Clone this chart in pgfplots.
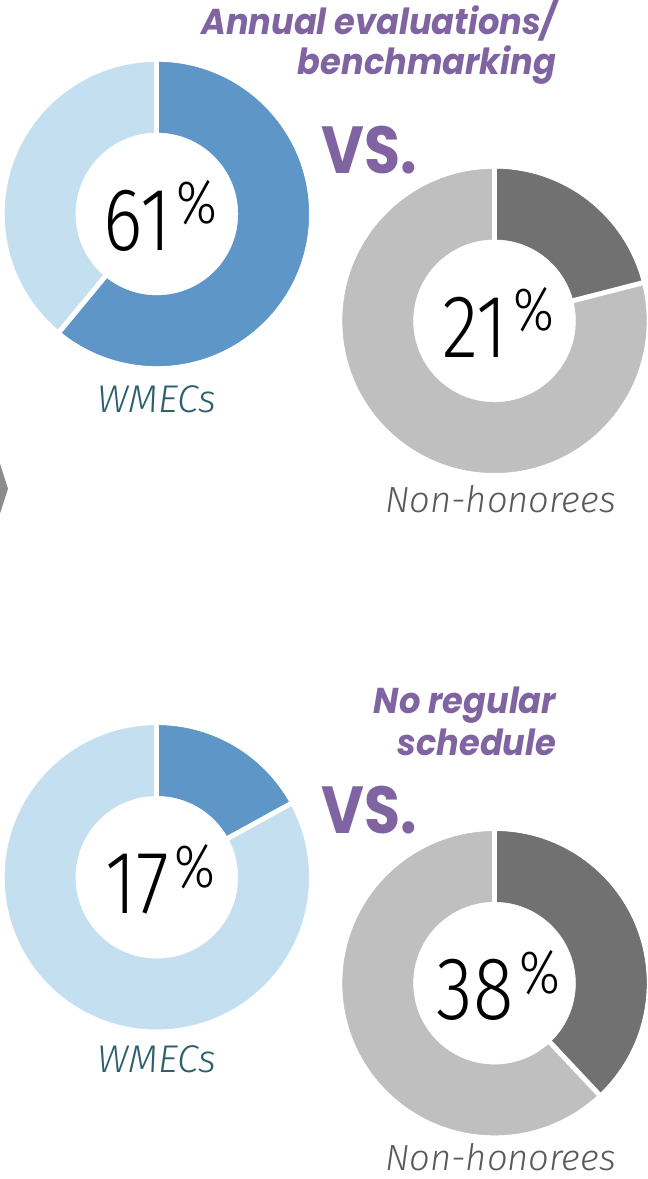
\documentclass[border=0pt]{standalone}
\usepackage{fontspec}
\usepackage{pgfplots}
\usepackage{pgfplotstable}
\pgfplotsset{compat=1.18}
\newfontfamily\titlefont{Poppins}
\newfontfamily\numfont{Fira Sans}[UprightFont={* Light}, ItalicFont={* Light Italic}]
\definecolor{bdark}{HTML}{5F96C8}
\definecolor{blight}{HTML}{C4DFF0}
\definecolor{gdark}{HTML}{717171}
\definecolor{glight}{HTML}{BFBFBF}
\definecolor{vspurple}{HTML}{8064A2}
\definecolor{wteal}{HTML}{2D5F6E}
\definecolor{ngray}{HTML}{595959}
\definecolor{arrowgray}{HTML}{8C8C8C}

% donut centres in pixel units, share of the dark segment, colour group
\pgfplotstableread{
cx  cy  pct dark
157 966 61  0
495 859 21  1
157 302 17  0
495 196 38  1
}\donuts

\begin{document}
\begin{tikzpicture}
\begin{axis}[x=0.75pt, y=0.75pt, xmin=0, xmax=647, ymin=0, ymax=1179,
  hide axis, clip=false]
\path (axis cs:0,0) rectangle (axis cs:647,1179);

\addplot[scatter, only marks, mark=text, text mark={},
  visualization depends on={\thisrow{pct}\as\pct},
  visualization depends on={\thisrow{dark}\as\grp},
  scatter/@pre marker code/.code={%
    \ifdim\grp pt>0.5pt \colorlet{segA}{gdark}\colorlet{segB}{glight}%
    \else \colorlet{segA}{bdark}\colorlet{segB}{blight}\fi
    \pgfmathtruncatemacro\pctint{round(\pct)}%
    \fill[segB] (0,0) circle[radius=114pt];
    \fill[segA] (0,0) -- (90:114pt) arc[start angle=90, end angle={90-3.6*\pct}, radius=114pt] -- cycle;
    \fill[white] (0,0) circle[radius=60.75pt];
    \draw[white, line width=3.75pt] (0,0) -- (90:117pt);
    \draw[white, line width=3.75pt] (0,0) -- ({90-3.6*\pct}:117pt);
    \node[anchor=base, inner sep=0pt, xscale=0.84, xshift=3.4pt, yshift=-27.4pt, text=black] at (0,0)
      {\numfont\fontsize{67}{67}\selectfont\pctint\hspace{5pt}\raisebox{20pt}{\fontsize{46}{46}\selectfont\%}};
  },
  scatter/@post marker code/.code={},
] table[x=cx, y=cy] {\donuts};

% titles
\tikzset{ttl/.style={anchor=base east, inner sep=0pt, text=vspurple, xscale=0.935,
  font=\titlefont\bfseries\itshape\fontsize{27}{27}\selectfont},
  vs/.style={anchor=base west, inner sep=0pt, text=vspurple, xscale=0.88,
  font=\titlefont\bfseries\fontsize{50}{50}\selectfont},
  lbl/.style={anchor=base, inner sep=0pt}}
\node[ttl] at (axis cs:557,1146) {Annual evaluations/};
\node[ttl] at (axis cs:557,1106) {benchmarking};
\node[ttl] at (axis cs:557,466) {No regular};
\node[ttl] at (axis cs:557,424) {schedule};
\node[vs] at (axis cs:322,1007) {VS.};
\node[vs] at (axis cs:322,346) {VS.};

% group labels
\node[lbl, text=wteal, font=\numfont\itshape\fontsize{29}{29}\selectfont] at (axis cs:157,767) {WMECs};
\node[lbl, text=ngray, font=\numfont\itshape\fontsize{27.3}{27.3}\selectfont] at (axis cs:501,667) {Non-honorees};
\node[lbl, text=wteal, font=\numfont\itshape\fontsize{29}{29}\selectfont] at (axis cs:157,107) {WMECs};
\node[lbl, text=ngray, font=\numfont\itshape\fontsize{27.3}{27.3}\selectfont] at (axis cs:501,9) {Non-honorees};

% arrow tip at the left edge
\fill[arrowgray] (axis cs:0,716) -- (axis cs:8,691) -- (axis cs:0,666) -- cycle;
\end{axis}
\end{tikzpicture}
\end{document}
